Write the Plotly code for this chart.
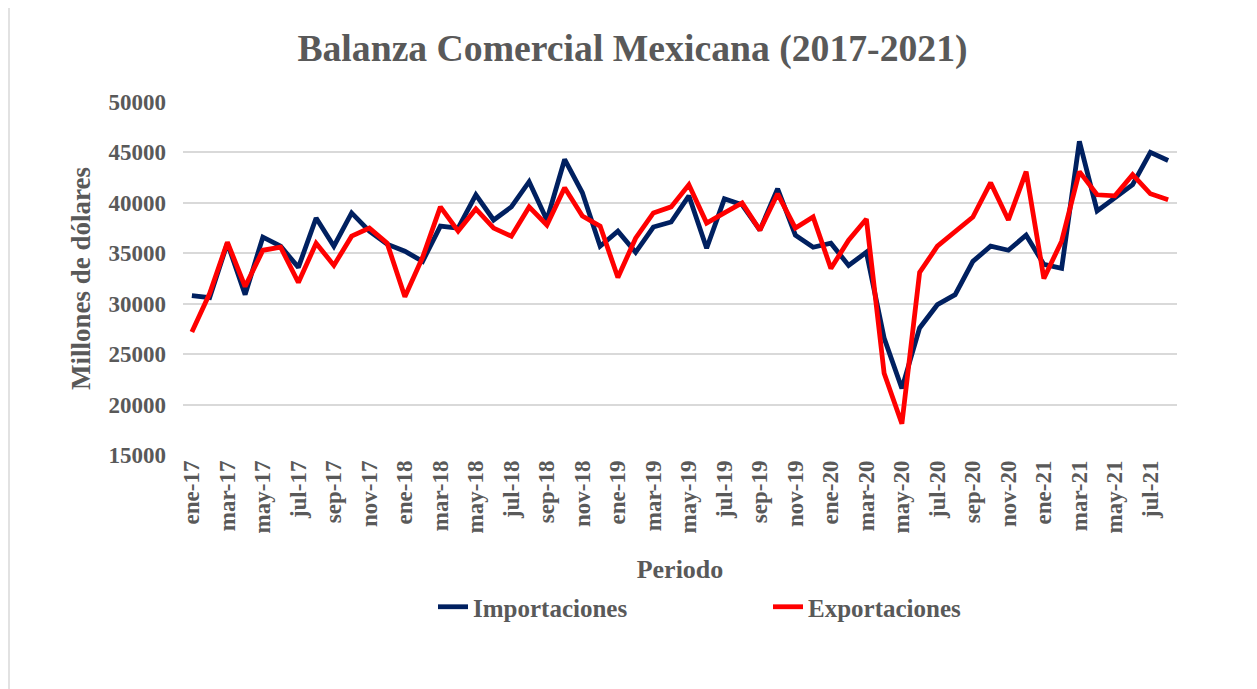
import plotly.graph_objects as go

months = ["ene", "feb", "mar", "abr", "may", "jun", "jul", "ago", "sep", "oct", "nov", "dic"]
years = ["17", "18", "19", "20", "21"]
periodos = [f"{m}-{y}" for y in years for m in months][:56]

importaciones = [30800, 30600, 36000, 30900, 36600, 35700, 33600, 38500, 35700, 39000, 37200, 35900,
                 35200, 34200, 37700, 37500, 40800, 38300, 39600, 42100, 38300, 44300, 41000, 35700,
                 37200, 35100, 37600, 38100, 40700, 35500, 40400, 39800, 37300, 41400, 36800, 35600,
                 36000, 33800, 35100, 26600, 21600, 27600, 29900, 30900, 34200, 35700, 35300, 36800,
                 33900, 33500, 46100, 39200, 40500, 41800, 45000, 44200]
exportaciones = [27200, 31000, 36100, 31700, 35300, 35600, 32100, 36000, 33800, 36700, 37500, 36000,
                 30700, 34600, 39600, 37200, 39400, 37500, 36700, 39600, 37800, 41500, 38700, 37700,
                 32600, 36500, 39000, 39600, 41800, 38000, 39000, 40000, 37300, 40900, 37500, 38600,
                 33500, 36300, 38400, 23100, 18100, 33100, 35700, 37200, 38600, 42000, 38300, 43100,
                 32500, 36200, 43100, 40800, 40700, 42800, 40900, 40300]
tick_labels = periodos[::2]
y_ticks = [15000, 20000, 25000, 30000, 35000, 40000, 45000, 50000]

FONT = "Liberation Serif, Times New Roman, serif"
GRAY = "#595959"

fig = go.Figure()
fig.add_trace(go.Scatter(x=periodos, y=importaciones, mode="lines", name="<b>Importaciones</b>",
                         line=dict(color="#002060", width=4.8)))
fig.add_trace(go.Scatter(x=periodos, y=exportaciones, mode="lines", name="<b>Exportaciones</b>",
                         line=dict(color="#FF0000", width=4.8)))

# page body has an 8px offset
OFF = 8
W, H = 1257 - OFF, 689 - OFF
L, T = 183 - OFF, 102 - OFF
R = W - (1177 - OFF)
B = H - (455 - OFF)
pw, ph = W - L - R, H - T - B

def px2paper(px, py):
    return (px - OFF - L) / pw, (H - B - (py - OFF)) / ph

x0, y0 = px2paper(9, 700)
x1, y1 = px2paper(1270, 6)

fig.update_layout(
    width=W, height=H,
    margin=dict(l=L, r=R, t=T, b=B),
    paper_bgcolor="white", plot_bgcolor="white",
    font=dict(family=FONT, color=GRAY),
    title=dict(text="<b>Balanza Comercial Mexicana (2017-2021)</b>", x=0.5, xref="container",
               y=1 - (48 - OFF) / H, yanchor="middle", font=dict(size=37.7, color=GRAY, family=FONT)),
    xaxis=dict(type="category", categoryorder="array", categoryarray=periodos,
               range=[-0.5, len(periodos) - 0.5],
               tickmode="array", tickvals=tick_labels, ticktext=[f"<b>{t}</b>" for t in tick_labels],
               tickangle=-90, tickfont=dict(size=23, color=GRAY, family=FONT),
               showgrid=False, showline=False, zeroline=False, ticks="",
               title=dict(text="<b>Periodo</b>", font=dict(size=26, color=GRAY, family=FONT), standoff=27)),
    yaxis=dict(range=[15000, 50000], tickmode="array", tickvals=y_ticks,
               ticktext=[f"<b>{v}</b>" for v in y_ticks],
               tickfont=dict(size=23, color=GRAY, family=FONT),
               showgrid=True, gridcolor="#d9d9d9", gridwidth=1.7, zeroline=False, showline=False,
               ticks="", ticklabelstandoff=16,
               title=dict(text="<b>Millones de dólares</b>", font=dict(size=27, color=GRAY, family=FONT), standoff=10)),
    legend=dict(orientation="h", x=0.5 + 88 / pw, xanchor="center", y=(455 - 607) / ph, yanchor="middle",
                font=dict(size=25, color=GRAY, family=FONT), entrywidth=290, entrywidthmode="pixels",
                bgcolor="rgba(0,0,0,0)"),
    showlegend=True,
    shapes=[
        dict(type="line", xref="paper", yref="paper", x0=x0, y0=y0, x1=x0, y1=y1,
             line=dict(color="#d9d9d9", width=1.5)),
        dict(type="line", xref="paper", yref="paper", x0=x0, y0=y1, x1=x1, y1=y1,
             line=dict(color="#d9d9d9", width=1.5)),
    ],
)

fig.write_html("out.html")
